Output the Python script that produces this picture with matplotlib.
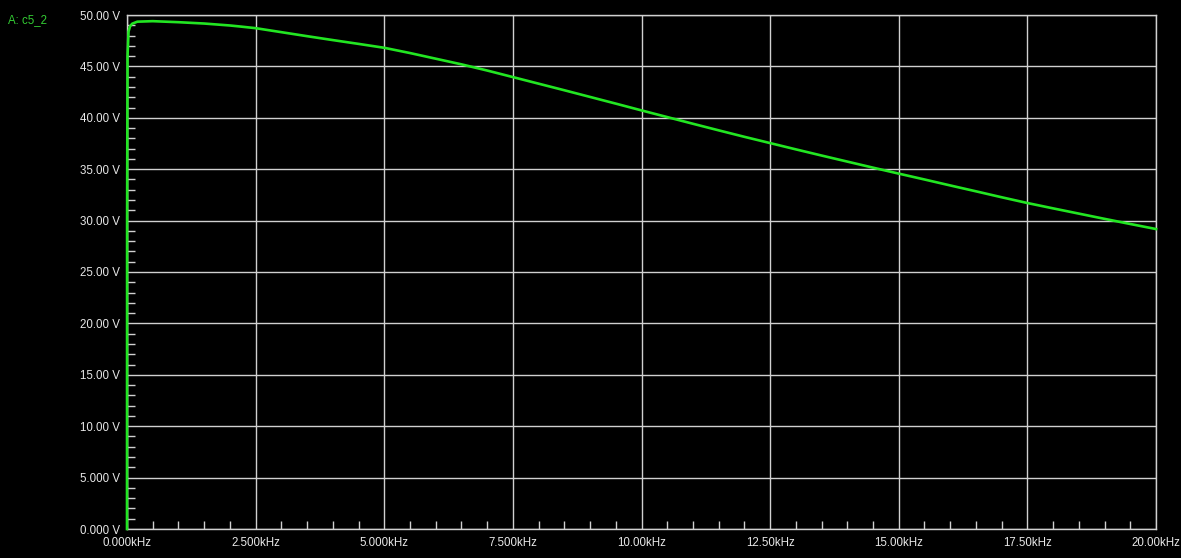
import matplotlib
matplotlib.use("Agg")
import matplotlib.pyplot as plt
from matplotlib.ticker import MultipleLocator, FixedLocator

plt.rcParams['font.family'] = ['Liberation Sans', 'DejaVu Sans']

freq_khz = [0.0, 0.002, 0.01, 0.03, 0.06, 0.1, 0.2, 0.5, 1.0, 1.5, 2.0, 2.2, 2.5,
            3.0, 3.5, 4.0, 4.5, 5.0, 5.5, 6.0, 6.5, 7.0, 7.5, 8.0, 8.5, 9.0, 9.5,
            10.0, 10.5, 11.0, 11.5, 12.0, 12.5, 13.0, 13.5, 14.0, 14.5, 15.0,
            15.5, 16.0, 16.5, 17.0, 17.5, 18.0, 18.5, 19.0, 19.5, 20.0]
volts = [0.0, 30.0, 46.0, 48.4, 48.9, 49.15, 49.35, 49.4, 49.3, 49.17, 48.98, 48.88,
         48.72, 48.33, 47.94, 47.56, 47.19, 46.81, 46.3, 45.75, 45.2, 44.6, 43.96,
         43.32, 42.68, 42.03, 41.38, 40.72, 40.07, 39.42, 38.78, 38.15, 37.54,
         36.93, 36.33, 35.74, 35.15, 34.57, 34.0, 33.42, 32.85, 32.27, 31.71,
         31.19, 30.68, 30.17, 29.67, 29.18]

x_ticks = [0, 2.5, 5, 7.5, 10, 12.5, 15, 17.5, 20]
x_labels = ["0.000kHz", "2.500kHz", "5.000kHz", "7.500kHz", "10.00kHz",
            "12.50kHz", "15.00kHz", "17.50kHz", "20.00kHz"]
y_ticks = [0, 5, 10, 15, 20, 25, 30, 35, 40, 45, 50]
y_labels = ["0.000 V", "5.000 V", "10.00 V", "15.00 V", "20.00 V", "25.00 V",
            "30.00 V", "35.00 V", "40.00 V", "45.00 V", "50.00 V"]
trace_name = "A: c5_2"

W, H = 1181, 558
fig = plt.figure(figsize=(W / 100, H / 100), dpi=100, facecolor='black')
ax = fig.add_axes([127 / W, (H - 529) / H, (1156 - 127) / W, (529 - 15) / H])
ax.set_facecolor('black')

gridc = '#d0d0d0'
textc = '#e8e8e8'
green = '#22e622'

ax.set_xlim(0, 20)
ax.set_ylim(0, 50)
ax.xaxis.set_major_locator(FixedLocator(x_ticks))
ax.yaxis.set_major_locator(FixedLocator(y_ticks))
ax.set_xticklabels(x_labels)
ax.set_yticklabels(y_labels)
ax.xaxis.set_minor_locator(MultipleLocator(0.5))
ax.yaxis.set_minor_locator(MultipleLocator(1))
ax.grid(True, which='major', color=gridc, linewidth=1.0)
ax.tick_params(which='major', length=0, colors=textc, labelsize=8.3, pad=5)
ax.tick_params(axis='x', which='major', pad=6)
ax.tick_params(which='minor', direction='in', length=6, width=1, color=gridc)
for s in ax.spines.values():
    s.set_color(gridc)
    s.set_linewidth(1.0)

ax.plot(freq_khz, volts, color=green, linewidth=1.9, clip_on=False, zorder=5)

fig.text(8 / W, 1 - 20 / H, trace_name, color='#33cc33', fontsize=8.3,
         ha='left', va='center')

fig.savefig('out.png', dpi=100, facecolor='black')
